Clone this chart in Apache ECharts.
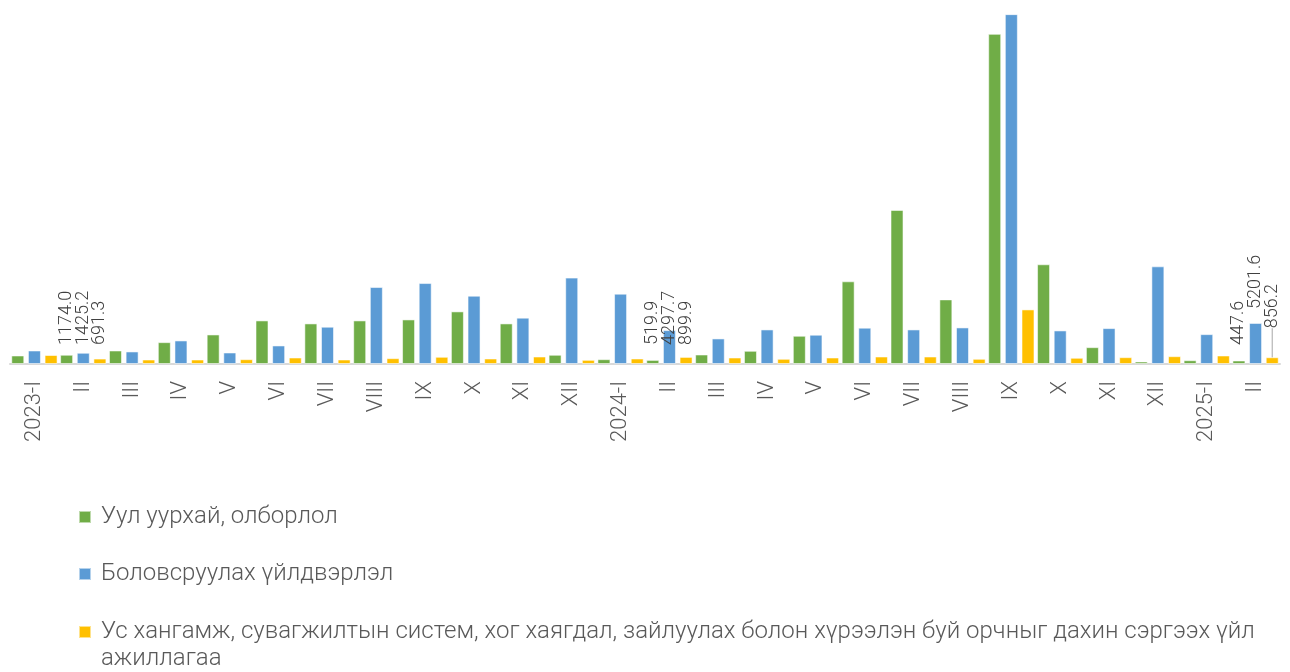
<!DOCTYPE html>
<html>
<head>
<meta charset="utf-8">
<script src="https://cdn.jsdelivr.net/npm/echarts@6/dist/echarts.min.js"></script>
<style>
html,body{margin:0;padding:0;background:#fff;}
#chart{width:1290px;height:672px;}
</style>
</head>
<body>
<div id="chart"></div>
<script>
const categories = ['2023-I','II','III','IV','V','VI','VII','VIII','IX','X','XI','XII',
  '2024-I','II','III','IV','V','VI','VII','VIII','IX','X','XI','XII',
  '2025-I','II'];
const seriesNames = [
  'Уул уурхай, олборлол',
  'Боловсруулах үйлдвэрлэл',
  'Ус хангамж, сувагжилтын систем, хог хаягдал, зайлуулах болон хүрээлэн буй орчныг дахин сэргээх үйл ажиллагаа'
];
const mining = [1080, 1174.0, 1715, 2770, 3745, 5525, 5145, 5525, 5650, 6670, 5145, 1170,
  610, 519.9, 1205, 1675, 3580, 10480, 19530, 8190, 41850, 12640, 2135, 320,
  480, 447.6];
const manufacturing = [1715, 1425.2, 1590, 2985, 1460, 2350, 4725, 9755, 10260, 8660, 5870, 10950,
  8915, 4297.7, 3240, 4380, 3710, 4600, 4380, 4635, 44350, 4255, 4550, 12380,
  3785, 5201.6];
const water = [1140, 691.3, 570, 570, 610, 825, 570, 740, 915, 700, 950, 530,
  700, 899.9, 825, 660, 825, 950, 950, 660, 6920, 790, 865, 990,
  1080, 856.2];
const labeledIdx = [1, 13, 25];
const colors = ['#70AD47', '#5B9BD5', '#FFC000'];

const baseLabel = {
  show: true, rotate: 90, align: 'left', verticalAlign: 'middle',
  position: 'insideBottom', distance: 19,
  fontFamily: 'Roboto', fontWeight: 300, fontSize: 18, color: '#404040',
  formatter: p => p.value.toFixed(1)
};

function buildData(values, seriesIdx) {
  return values.map((v, i) => {
    if (labeledIdx.indexOf(i) < 0) return v;
    const label = Object.assign({}, baseLabel);
    const item = { value: v, label: label };
    if (i === 25 && seriesIdx === 1) { label.position = 'top'; label.distance = 14; }
    if (i === 25 && seriesIdx === 2) {
      label.position = 'top'; label.distance = 29;
      item.labelLine = { show: true, lineStyle: { color: '#a6a6a6', width: 1 } };
    }
    return item;
  });
}

const allValues = [mining, manufacturing, water];
const series = allValues.map((vals, k) => ({
  name: seriesNames[k],
  type: 'bar',
  barWidth: 13,
  barGap: '28%',
  itemStyle: { color: colors[k], borderColor: 'rgba(255,255,255,0.55)', borderWidth: 1 },
  emphasis: { disabled: true },
  data: buildData(vals, k)
}));

const legendText = { fontFamily: 'Roboto', fontWeight: 300, fontSize: 24, color: '#595959',
  lineHeight: 27, padding: [0, 0, 0, 5] };

const chart = echarts.init(document.getElementById('chart'), null, { renderer: 'canvas' });
chart.setOption({
  animation: false,
  grid: { left: 10, right: 10, top: 9, bottom: 308, containLabel: false },
  xAxis: {
    type: 'category',
    data: categories,
    axisLine: { lineStyle: { color: '#d9d9d9', width: 2 } },
    axisTick: { show: false },
    axisLabel: {
      interval: 0, rotate: 90, margin: 17,
      fontFamily: 'Roboto', fontWeight: 300, fontSize: 22, color: '#595959'
    }
  },
  yAxis: {
    type: 'value', min: 0, max: 45000, show: false,
    splitLine: { show: false }
  },
  legend: [
    {
      orient: 'vertical', left: 78, top: 503.5, padding: 0, itemGap: 30,
      icon: 'rect', itemWidth: 12, itemHeight: 12,
      data: [seriesNames[0], seriesNames[1]],
      textStyle: legendText
    },
    {
      orient: 'vertical', left: 78, top: 591.5, padding: 0,
      icon: 'rect', itemWidth: 12, itemHeight: 12,
      data: [seriesNames[2]],
      formatter: name => '\n' + name.replace(' ажиллагаа', '\nажиллагаа'),
      textStyle: legendText
    }
  ],
  series: series
});
</script>
</body>
</html>
